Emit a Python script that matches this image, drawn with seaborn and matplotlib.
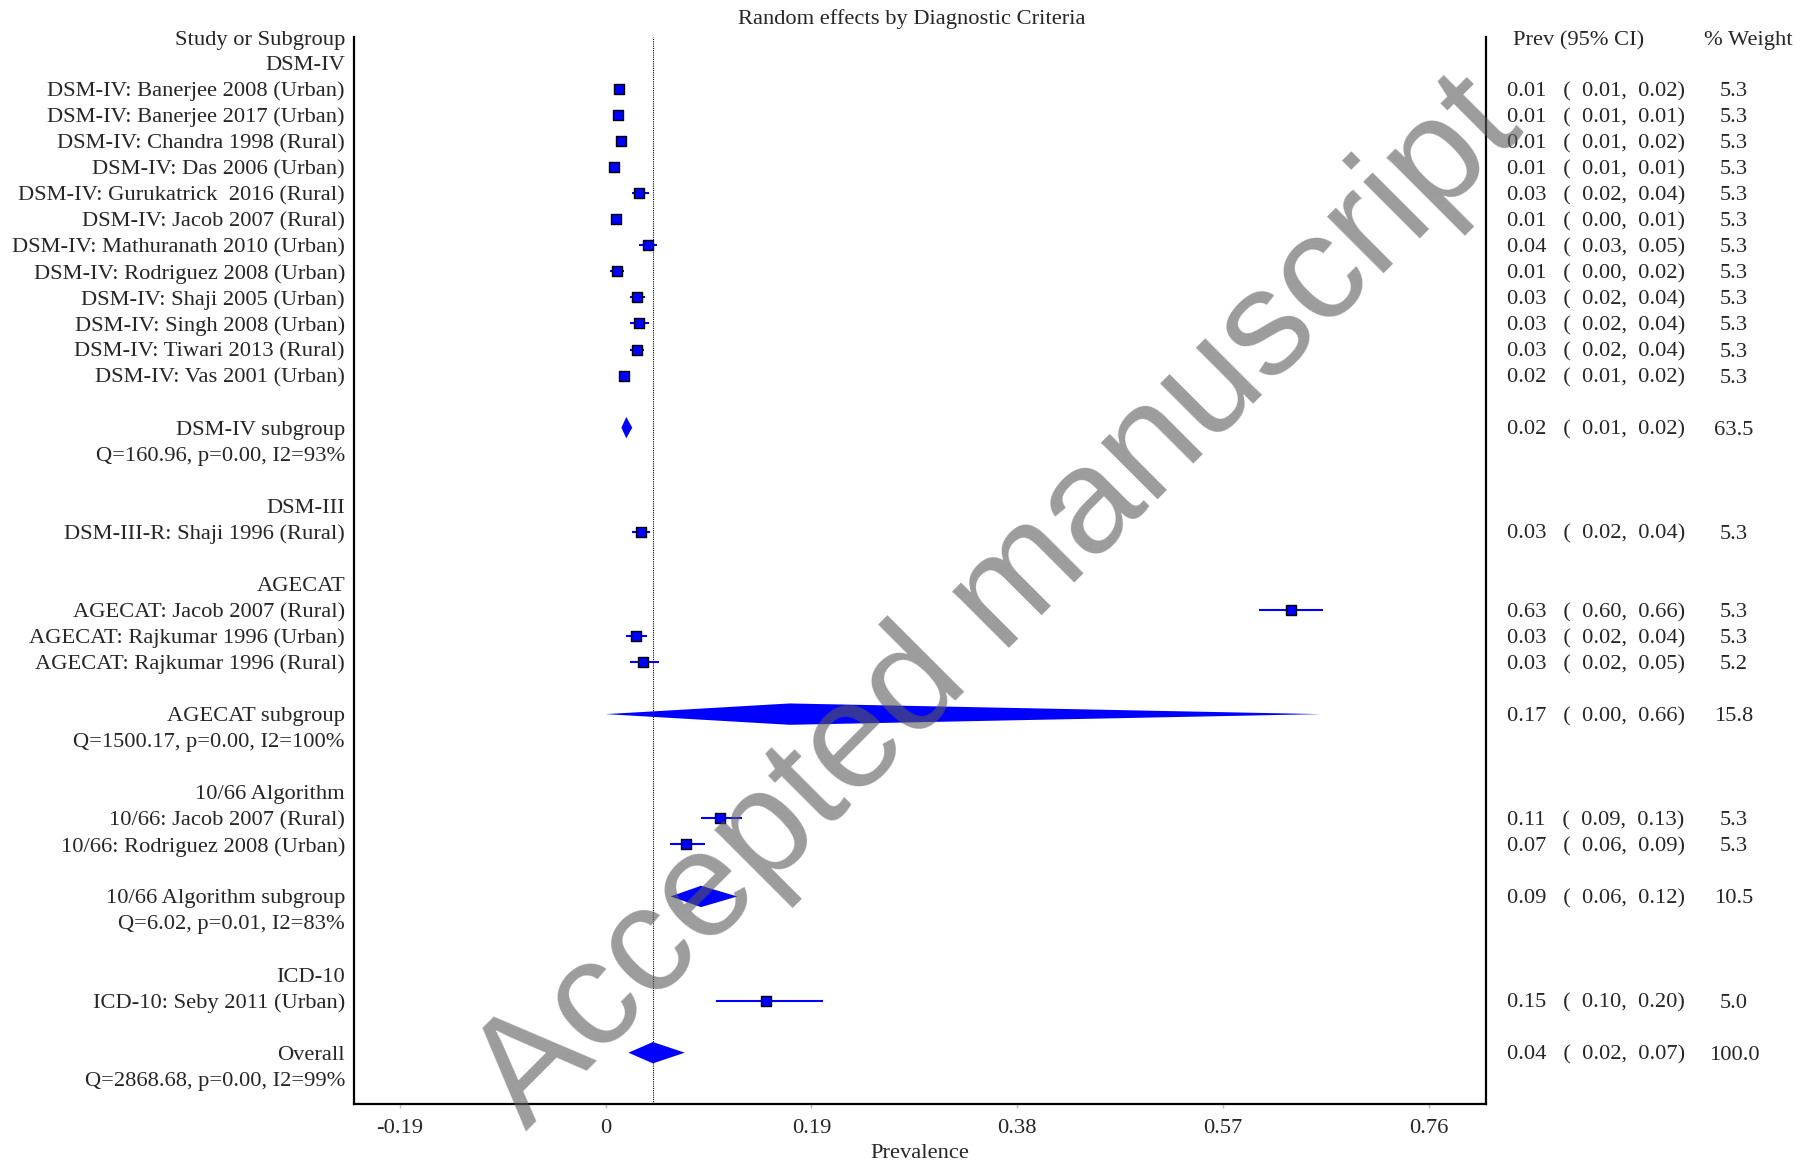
import numpy as np
import pandas as pd
import matplotlib
matplotlib.use("Agg")
import matplotlib.pyplot as plt
import matplotlib.transforms as mtransforms
import seaborn as sns

# study level data (prevalence and 95% CI)
study_group = ["DSM-IV"] * 12 + ["DSM-III"] + ["AGECAT"] * 3 + ["10/66 Algorithm"] * 2 + ["ICD-10"]
study_label = [
    "DSM-IV: Banerjee 2008 (Urban)",
    "DSM-IV: Banerjee 2017 (Urban)",
    "DSM-IV: Chandra 1998 (Rural)",
    "DSM-IV: Das 2006 (Urban)",
    "DSM-IV: Gurukatrick  2016 (Rural)",
    "DSM-IV: Jacob 2007 (Rural)",
    "DSM-IV: Mathuranath 2010 (Urban)",
    "DSM-IV: Rodriguez 2008 (Urban)",
    "DSM-IV: Shaji 2005 (Urban)",
    "DSM-IV: Singh 2008 (Urban)",
    "DSM-IV: Tiwari 2013 (Rural)",
    "DSM-IV: Vas 2001 (Urban)",
    "DSM-III-R: Shaji 1996 (Rural)",
    "AGECAT: Jacob 2007 (Rural)",
    "AGECAT: Rajkumar 1996 (Urban)",
    "AGECAT: Rajkumar 1996 (Rural)",
    "10/66: Jacob 2007 (Rural)",
    "10/66: Rodriguez 2008 (Urban)",
    "ICD-10: Seby 2011 (Urban)",
]
study_prev = [0.0126, 0.0116, 0.0144, 0.0080, 0.031, 0.0092, 0.039, 0.010, 0.029, 0.031, 0.0285, 0.0167,
              0.0325, 0.633, 0.028, 0.034, 0.1056, 0.074, 0.148]
study_lo = [0.0074, 0.0092, 0.0093, 0.0060, 0.024, 0.0045, 0.031, 0.004, 0.022, 0.022, 0.022, 0.0145,
            0.024, 0.603, 0.0185, 0.022, 0.088, 0.059, 0.102]
study_hi = [0.0178, 0.0141, 0.0196, 0.0102, 0.040, 0.0139, 0.047, 0.017, 0.036, 0.040, 0.0355, 0.019,
            0.041, 0.663, 0.038, 0.049, 0.126, 0.092, 0.201]
study_weight = [5.3] * 12 + [5.3, 5.3, 5.3, 5.2, 5.3, 5.3, 5.0]

# subgroup pooled estimates
group_names = ["DSM-IV", "DSM-III", "AGECAT", "10/66 Algorithm", "ICD-10"]
sub_group = ["DSM-IV", "AGECAT", "10/66 Algorithm"]
sub_prev = [0.019, 0.170, 0.088]
sub_lo = [0.0145, 0.0, 0.060]
sub_hi = [0.0245, 0.660, 0.1215]
sub_weight = [63.5, 15.8, 10.5]
sub_het = ["Q=160.96, p=0.00, I2=93%", "Q=1500.17, p=0.00, I2=100%", "Q=6.02, p=0.01, I2=83%"]

overall_prev, overall_lo, overall_hi = 0.0436, 0.021, 0.073
overall_weight = 100.0
overall_het = "Q=2868.68, p=0.00, I2=99%"

ticks = [-0.19, 0, 0.19, 0.38, 0.57, 0.76]
tick_labels = ["-0.19", "0", "0.19", "0.38", "0.57", "0.76"]

studies = pd.DataFrame({"group": study_group, "label": study_label, "prev": study_prev,
                        "lo": study_lo, "hi": study_hi, "weight": study_weight})

# work out the row of every line
rows_text = []   # (row, text)
study_rows = []
pooled = []      # (row, prev, lo, hi, weight)
y = 1
for g in group_names:
    rows_text.append((y, g))
    y += 1
    for i, r in studies[studies["group"] == g].iterrows():
        rows_text.append((y, r["label"]))
        study_rows.append(y)
        y += 1
    if g in sub_group:
        k = sub_group.index(g)
        y += 1
        rows_text.append((y, g + " subgroup"))
        rows_text.append((y + 1, sub_het[k]))
        pooled.append((y, sub_prev[k], sub_lo[k], sub_hi[k], sub_weight[k]))
        y += 2
    y += 1
rows_text.append((y, "Overall"))
rows_text.append((y + 1, overall_het))
pooled.append((y, overall_prev, overall_lo, overall_hi, overall_weight))
studies["row"] = study_rows

FS = 16.2
sns.set_theme(style="white")
plt.rcParams["font.family"] = ["Liberation Serif", "DejaVu Serif"]
plt.rcParams["font.size"] = FS

fig = plt.figure(figsize=(18.05, 11.63), dpi=100)
ax = fig.add_axes([354 / 1805, 59 / 1163, 1132 / 1805, 1067 / 1163])
ax.set_xlim(-0.2325, 0.8131)
ax.set_ylim(40.97, 0)

# dotted line at overall estimate
ax.axvline(overall_prev, color="black", linestyle=(0, (1, 1)), linewidth=0.8, zorder=1)

# study CIs and squares
ax.hlines(studies["row"], studies["lo"], studies["hi"], color="blue", linewidth=1.5, zorder=2)
sns.scatterplot(data=studies, x="prev", y="row", marker="s", s=48, color="blue",
                edgecolor="black", linewidth=1.0, zorder=3, ax=ax, legend=False)

# pooled diamonds
for r, p, lo, hi, w in pooled:
    ax.fill([lo, p, hi, p], [r, r - 0.41, r, r + 0.41], color="blue", linewidth=0, zorder=3)

trans = mtransforms.blended_transform_factory(ax.transAxes, ax.transData)
VA = "center_baseline"
ax.text(-0.008, 0.05, "Study or Subgroup", transform=trans, ha="right", va=VA)
for r, t in rows_text:
    ax.text(-0.008, r, t, transform=trans, ha="right", va=VA)

ax.text(1.0239, 0.05, "Prev (95% CI)", transform=trans, ha="left", va=VA)
ax.text(1.2314, 0.05, "% Weight", transform=trans, ha="center", va=VA)
for _, r in studies.iterrows():
    ax.text(1.0186, r["row"], f"{r['prev']:.2f}   (  {r['lo']:.2f},  {r['hi']:.2f})",
            transform=trans, ha="left", va=VA)
    ax.text(1.2191, r["row"], f"{r['weight']:.1f}", transform=trans, ha="center", va=VA)
for r, p, lo, hi, w in pooled:
    ax.text(1.0186, r, f"{p:.2f}   (  {lo:.2f},  {hi:.2f})", transform=trans, ha="left", va=VA)
    ax.text(1.2191, r, f"{w:.1f}", transform=trans, ha="center", va=VA)

ax.set_xticks(ticks)
ax.set_xticklabels(tick_labels)
ax.set_yticks([])
ax.tick_params(axis="x", direction="out", length=3, width=1, color="#bbbbbb", pad=8,
               labelsize=FS, bottom=True)
ax.set_xlabel("Prevalence", fontsize=FS, labelpad=4)
ax.set_ylabel("")
for side in ["left", "right", "bottom"]:
    ax.spines[side].set_visible(True)
    ax.spines[side].set_color("black")
    ax.spines[side].set_linewidth(1.6)
ax.spines["top"].set_visible(False)

fig.text(912 / 1805, 1 - 19 / 1163, "Random effects by Diagnostic Criteria", ha="center", va="center",
         fontsize=FS)

# watermark
fig.text(998 / 1805, 1 - 604 / 1163, "Accepted manuscript", rotation=45, rotation_mode="anchor",
         ha="center", va="center", fontsize=109, family="Liberation Sans", color="#5a5a5a", alpha=0.6,
         zorder=10)

fig.savefig("out.png", dpi=100)
